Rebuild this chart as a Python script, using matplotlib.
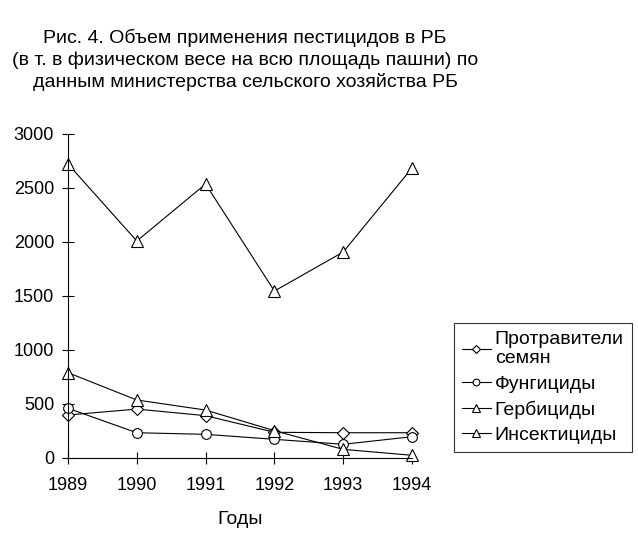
import numpy as np
import matplotlib.pyplot as plt

plt.rcParams['font.family'] = ['Liberation Sans', 'DejaVu Sans']

years = [1989, 1990, 1991, 1992, 1993, 1994]

protraviteli = [398, 453, 392, 238, 234, 234]
fungicidy    = [460, 234, 219, 173, 127, 197]
gerbicidy    = [2722, 2009, 2537, 1546, 1907, 2685]
insekticidy  = [790, 537, 444, 253, 80, 25]

labels = ["Протравители\nсемян", "Фунгициды", "Гербициды", "Инсектициды"]

title_lines = ["Рис. 4. Объем применения пестицидов в РБ",
               "(в т. в физическом весе на всю площадь пашни) по",
               "данным министерства сельского хозяйства РБ"]

fig = plt.figure(figsize=(6.38, 5.37), dpi=100)
ax = fig.add_axes([68/638, 1-458/537, (412-68)/638, (458-134)/537])

style = dict(color='black', linewidth=0.8, markerfacecolor='white',
             markeredgecolor='black', markeredgewidth=0.8, clip_on=False)

ax.plot(years, protraviteli, marker='D', markersize=6, label=labels[0], **style)
ax.plot(years, fungicidy, marker='o', markersize=7, label=labels[1], **style)
ax.plot(years, gerbicidy, marker='^', markersize=8.5, label=labels[2], **style)
ax.plot(years, insekticidy, marker='^', markersize=8.5, label=labels[3], **style)

ax.set_xlim(1989, 1994)
ax.set_ylim(0, 3000)
ax.set_xticks(years)
ax.set_yticks(np.arange(0, 3001, 500))
ax.tick_params(direction='inout', length=8, width=0.8, labelsize=13)
ax.tick_params(axis='x', pad=10)
ax.tick_params(axis='y', pad=6)
ax.spines['top'].set_visible(False)
ax.spines['right'].set_visible(False)
for s in ['left', 'bottom']:
    ax.spines[s].set_linewidth(0.8)

ax.set_xlabel("Годы", fontsize=14, labelpad=12)

# title, three centered lines
for i, line in enumerate(title_lines):
    fig.text(245/638, 1-(38 + 22*i)/537, line, ha='center', va='center',
             fontsize=14)

leg = ax.legend(loc='upper left', bbox_to_anchor=(454/638, 1-323/537),
                bbox_transform=fig.transFigure, borderaxespad=0,
                fontsize=14, frameon=True, fancybox=False,
                handlelength=1.5, handletextpad=0.2, labelspacing=0.4,
                borderpad=0.4, markerscale=0.7)
leg.get_frame().set_edgecolor('black')
leg.get_frame().set_linewidth(0.8)

fig.savefig("out.png", dpi=100)
